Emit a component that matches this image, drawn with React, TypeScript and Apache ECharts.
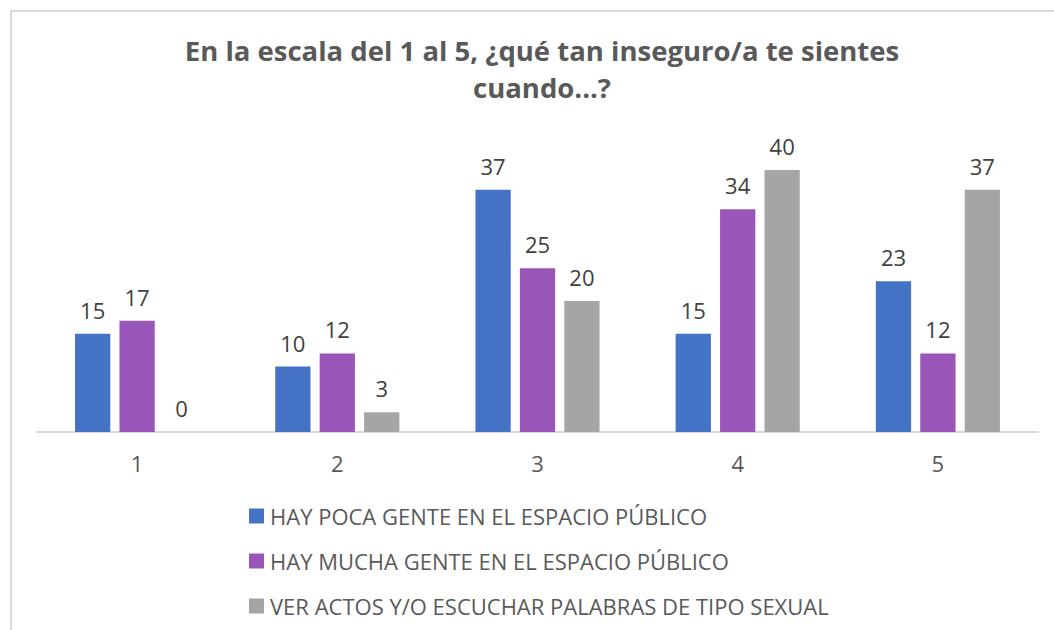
import React, { useEffect, useRef } from "react";
import * as echarts from "echarts";

const categories = ["1", "2", "3", "4", "5"];
const seriesNames = [
  "HAY POCA GENTE EN EL ESPACIO PÚBLICO",
  "HAY MUCHA GENTE EN EL ESPACIO PÚBLICO",
  "VER ACTOS Y/O ESCUCHAR PALABRAS DE TIPO SEXUAL",
];
const pocaGente = [15, 10, 37, 15, 23];
const muchaGente = [17, 12, 25, 34, 12];
const actosSexuales = [0, 3, 20, 40, 37];
const colors = ["#4472C4", "#9955B8", "#A5A5A5"];

export default function App() {
  const ref = useRef<HTMLDivElement>(null);
  useEffect(() => {
    if (!ref.current) return;
    const chart = echarts.init(ref.current, null, { renderer: "svg" });
    const font = "'Open Sans', 'Noto Sans', sans-serif";
    const data = [pocaGente, muchaGente, actosSexuales];
    chart.setOption({
      animation: false,
      backgroundColor: "#ffffff",
      textStyle: { fontFamily: font },
      title: {
        text: "En la escala del 1 al 5, ¿qué tan inseguro/a te sientes\ncuando...?",
        left: 537,
        top: 27,
        textAlign: "center",
        textStyle: {
          fontFamily: font,
          fontSize: 27.5,
          fontWeight: "bold",
          color: "#595959",
          lineHeight: 37,
        },
      },
      graphic: [
        {
          type: "rect",
          shape: { x: 11, y: 11, width: 1100, height: 700 },
          style: { fill: "none", stroke: "#d9d9d9", lineWidth: 2 },
          silent: true,
        },
      ],
      legend: {
        orient: "vertical",
        left: 244,
        top: 500,
        itemGap: 23,
        itemWidth: 15,
        itemHeight: 15,
        icon: "rect",
        textStyle: { fontFamily: font, fontSize: 22, color: "#595959", padding: [0, 0, 0, 1] },
        data: seriesNames,
      },
      grid: { left: 37, right: 16, top: 170, bottom: 198, containLabel: false },
      xAxis: {
        type: "category",
        data: categories,
        axisLine: { lineStyle: { color: "#d9d9d9", width: 2 } },
        axisTick: { show: false },
        axisLabel: { fontFamily: font, fontSize: 22, color: "#595959", margin: 20 },
      },
      yAxis: {
        type: "value",
        min: 0,
        max: 40,
        show: false,
        splitLine: { show: false },
      },
      series: seriesNames.map((name, i) => ({
        name,
        type: "bar",
        data: data[i],
        itemStyle: { color: colors[i] },
        barGap: "26%",
        barCategoryGap: "38%",
        label: {
          show: true,
          position: "top",
          distance: 13,
          fontFamily: font,
          fontSize: 22,
          color: "#404040",
        },
      })),
    });
    return () => chart.dispose();
  }, []);
  return (
    <div
      ref={ref}
      style={{ position: "fixed", left: 0, top: 0, width: 1054, height: 630 }}
    />
  );
}
